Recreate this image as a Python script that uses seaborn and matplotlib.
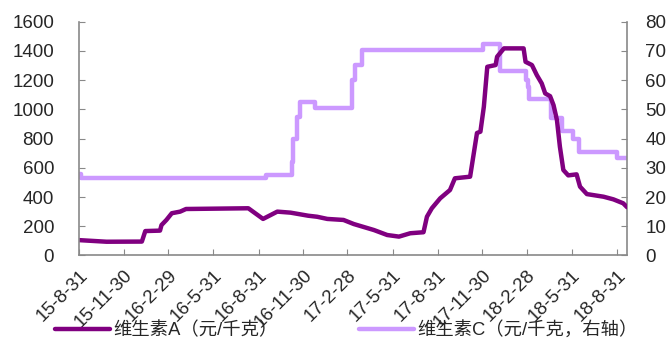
import pandas as pd
import numpy as np
import seaborn as sns
import matplotlib.pyplot as plt

# vitamin A price (yuan/kg) at its turning points
DATES_A = ['2015-08-31', '2015-10-26', '2016-01-06', '2016-01-13', '2016-02-12', '2016-02-15',
           '2016-02-25', '2016-03-07', '2016-03-24', '2016-04-05', '2016-08-10', '2016-09-09',
           '2016-10-08', '2016-11-04', '2016-12-10', '2016-12-28', '2017-01-18', '2017-02-20',
           '2017-03-13', '2017-04-23', '2017-05-20', '2017-06-13', '2017-07-06', '2017-08-02',
           '2017-08-09', '2017-08-19', '2017-09-05', '2017-09-25', '2017-10-05', '2017-11-05',
           '2017-11-19', '2017-11-26', '2017-12-03', '2017-12-10', '2017-12-27', '2017-12-30',
           '2018-01-13', '2018-02-22', '2018-02-26', '2018-03-11', '2018-03-21', '2018-03-31',
           '2018-04-07', '2018-04-17', '2018-04-24', '2018-05-01', '2018-05-07', '2018-05-14',
           '2018-05-24', '2018-06-10', '2018-06-17', '2018-07-01', '2018-08-04', '2018-08-24',
           '2018-09-13', '2018-09-21']
VALUES_A = [105, 94, 95, 167, 170, 208,
            243, 289, 300, 318, 323, 250,
            300, 293, 272, 265, 250, 243,
            215, 174, 140, 129, 152, 159,
            265, 323, 391, 448, 528, 539,
            838, 847, 1018, 1291, 1303, 1360,
            1417, 1417, 1325, 1303, 1234, 1177,
            1109, 1090, 1029, 926, 744, 585,
            548, 555, 471, 420, 402, 384,
            357, 330]

# vitamin C price (yuan/kg, right axis), step changes
DATES_C = ['2015-08-31', '2015-09-04', '2016-09-16', '2016-11-07', '2016-11-10', '2016-11-17',
           '2016-11-24', '2016-12-24', '2017-03-09', '2017-03-16', '2017-03-29', '2017-12-01',
           '2018-01-05', '2018-02-26', '2018-03-02', '2018-03-06', '2018-04-19', '2018-05-11',
           '2018-06-03', '2018-06-14', '2018-08-31', '2018-09-21']
VALUES_C = [28, 26.4, 27.5, 32, 40, 47.5,
            52.5, 50.3, 60, 65, 70.2, 72.5,
            63, 60, 57.8, 53.6, 47, 42.6,
            40, 35.5, 33.2, 33.2]

TICK_DATES = ['2015-08-31', '2015-11-30', '2016-02-29', '2016-05-31', '2016-08-31', '2016-11-30',
              '2017-02-28', '2017-05-31', '2017-08-31', '2017-11-30', '2018-02-28', '2018-05-31',
              '2018-08-31']
TICK_LABELS = ['15-8-31', '15-11-30', '16-2-29', '16-5-31', '16-8-31', '16-11-30',
               '17-2-28', '17-5-31', '17-8-31', '17-11-30', '18-2-28', '18-5-31', '18-8-31']

LABEL_A = '维生素A（元/千克）'
LABEL_C = '维生素C（元/千克，右轴）'

COLOR_A = '#800080'
COLOR_C = '#CC99FF'
GRAY = '#898989'

sns.set_style('ticks')
plt.rcParams['font.family'] = ['Liberation Sans', 'Noto Sans CJK SC']
plt.rcParams['font.size'] = 13.5

df_a = pd.DataFrame({'date': pd.to_datetime(DATES_A), 'value': VALUES_A})
df_c = pd.DataFrame({'date': pd.to_datetime(DATES_C), 'value': VALUES_C})

fig = plt.figure(figsize=(6.7, 3.49), dpi=100)
ax = fig.add_axes([0.118, 0.268, 0.818, 0.670])
ax2 = ax.twinx()

sns.lineplot(data=df_a, x='date', y='value', ax=ax, color=COLOR_A, lw=3.2, label=LABEL_A, legend=False)
sns.lineplot(data=df_c, x='date', y='value', ax=ax2, color=COLOR_C, lw=3.2, label=LABEL_C,
             legend=False, drawstyle='steps-post')
# keep vitamin A drawn above vitamin C
ax.set_zorder(ax2.get_zorder() + 1)
ax.patch.set_visible(False)

ax.set_xlim(pd.Timestamp('2015-08-31'), pd.Timestamp('2018-09-21'))
ax.set_ylim(0, 1600)
ax.set_yticks(np.arange(0, 1601, 200))
ax2.set_ylim(0, 80)
ax2.set_yticks(np.arange(0, 81, 10))
ax.set_xticks(pd.to_datetime(TICK_DATES))
ax.set_xticklabels(TICK_LABELS, rotation=45, ha='right', rotation_mode='anchor')
ax.set_xlabel('')
ax.set_ylabel('')
ax2.set_ylabel('')

for a in (ax, ax2):
    for s in a.spines.values():
        s.set_color(GRAY)
        s.set_linewidth(1.2)
    a.spines['top'].set_visible(False)
ax.spines['right'].set_visible(False)
ax2.spines['left'].set_visible(False)
ax2.spines['bottom'].set_visible(False)

ax.tick_params(axis='y', direction='in', length=4, color=GRAY, pad=18)
ax.tick_params(axis='x', direction='in', length=4, color=GRAY, pad=8)
ax2.tick_params(axis='y', direction='in', length=4, color=GRAY, pad=13)

handles = ax.get_lines()[:1] + ax2.get_lines()[:1]
fig.legend(handles, [LABEL_A, LABEL_C], loc='lower center', bbox_to_anchor=(0.517, -0.02),
           ncol=2, frameon=False, handlelength=3.0, handletextpad=0.2, columnspacing=4.4,
           fontsize=13.2)

fig.savefig('out.png', dpi=100)
